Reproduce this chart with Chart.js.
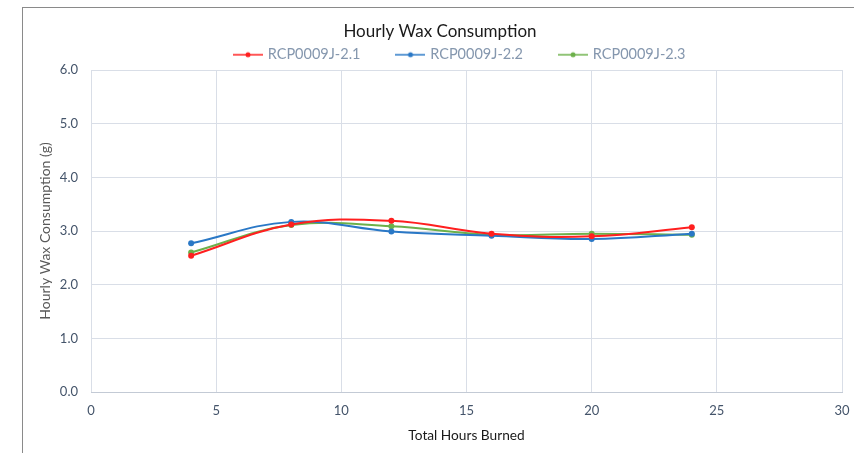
<!DOCTYPE html>
<html>
<head>
<meta charset="utf-8">
<script src="https://cdn.jsdelivr.net/npm/chart.js@4.4.1/dist/chart.umd.min.js"></script>
<style>
  html, body { margin: 0; padding: 0; background: #fff; }
  #wrap { position: relative; width: 854px; height: 453px; overflow: hidden; }
  #frame { position: absolute; left: 22px; top: 7px; right: -2px; bottom: -2px; border-top: 1px solid #8a8a8a; border-left: 1px solid #8a8a8a; pointer-events: none; }
  canvas { position: absolute; left: 0; top: 0; }
</style>
</head>
<body>
<div id="wrap">
  <canvas id="c" width="854" height="453"></canvas>
  <div id="frame"></div>
</div>
<script>
const hours = [4, 8, 12, 16, 20, 24];
const seriesNames = ['RCP0009J-2.1', 'RCP0009J-2.2', 'RCP0009J-2.3'];
const rcp21 = [2.54, 3.12, 3.19, 2.95, 2.90, 3.07];
const rcp22 = [2.77, 3.17, 2.99, 2.91, 2.85, 2.95];
const rcp23 = [2.60, 3.11, 3.09, 2.93, 2.95, 2.93];
const xTicks = [0, 5, 10, 15, 20, 25, 30];
const yTicks = [0, 1, 2, 3, 4, 5, 6];
const colors = ['#ff1f1f', '#2a78c6', '#6cb04a'];

function legendIcon(color) {
  const c = document.createElement('canvas');
  c.width = 30; c.height = 8;
  const g = c.getContext('2d');
  g.strokeStyle = color; g.lineWidth = 1.5;
  g.beginPath(); g.moveTo(0, 4); g.lineTo(30, 4); g.stroke();
  g.fillStyle = color;
  g.beginPath(); g.arc(15, 4, 2.5, 0, Math.PI * 2); g.fill();
  return c;
}

const allSeries = [rcp21, rcp22, rcp23];
const datasets = allSeries.map((vals, i) => ({
  label: seriesNames[i],
  data: hours.map((h, k) => ({ x: h, y: vals[k] })),
  borderColor: colors[i],
  backgroundColor: colors[i],
  borderWidth: 2,
  pointRadius: 3,
  pointBorderWidth: 0,
  pointStyle: 'circle',
  tension: 0.4,
  fill: false,
  yAxisID: 'y'
}));
const icons = colors.map(legendIcon);

// positions the legend row (layout only)
const legendPlacer = {
  id: 'legendPlacer',
  afterLayout(chart) {
    const l = chart.legend, a = chart.chartArea;
    if (!l) return;
    l.left = a.left - 6;
    l.right = a.right - 6;
    l.top = 10;
  }
};

new Chart(document.getElementById('c'), {
  type: 'line',
  data: { datasets },
  plugins: [legendPlacer],
  options: {
    responsive: false,
    animation: false,
    layout: { padding: { left: 26, right: 0, top: 21, bottom: 5 } },
    plugins: {
      title: {
        display: true,
        text: 'Hourly Wax Consumption',
        color: '#1a1a1a',
        font: { family: 'Lato', size: 17, weight: 'normal' },
        padding: { top: 0, bottom: 0 }
      },
      legend: {
        display: true,
        maxHeight: 28.6,
        labels: {
          usePointStyle: true,
          pointStyleWidth: 25,
          color: '#8597ae',
          font: { family: 'Lato', size: 14.5 },
          padding: 37.5,
          generateLabels: (chart) => chart.data.datasets.map((d, i) => ({
            text: d.label,
            fillStyle: d.borderColor,
            strokeStyle: d.borderColor,
            fontColor: '#8597ae',
            pointStyle: icons[i],
            lineWidth: 0,
            datasetIndex: i,
            hidden: false
          }))
        }
      },
      tooltip: { enabled: false }
    },
    scales: {
      x: {
        type: 'linear',
        min: 0, max: 30,
        afterBuildTicks: (s) => { s.ticks = xTicks.map(v => ({ value: v })); },
        afterFit: (s) => { s.height = 56; },
        ticks: { color: '#44546a', font: { family: 'Lato', size: 13 }, padding: 2, maxRotation: 0 },
        grid: { color: '#d9dee7', drawTicks: true, tickLength: 9, tickColor: 'rgba(0,0,0,0)' },
        border: { color: '#c3cad5' },
        title: { display: true, text: 'Total Hours Burned', color: '#1a1a1a', font: { family: 'Lato', size: 13.7 }, padding: { top: 0, bottom: 4 } }
      },
      y: {
        position: 'left',
        min: 0, max: 6,
        afterBuildTicks: (s) => { s.ticks = yTicks.map(v => ({ value: v })); },
        afterFit: (s) => { s.width = 65; },
        ticks: { color: '#44546a', font: { family: 'Lato', size: 13 }, padding: 13, callback: (v) => Number(v).toFixed(1) },
        grid: { color: '#d9dee7', drawTicks: false },
        border: { display: false },
        title: { display: true, text: 'Hourly Wax Consumption (g)', color: '#595959', font: { family: 'Lato', size: 14 }, padding: { top: 10.6, bottom: 0 } }
      },
      yR: {
        position: 'right',
        display: true,
        afterFit: (s) => { s.width = 12; },
        grid: { display: false },
        ticks: { display: false },
        border: { display: false }
      }
    }
  }
});
</script>
</body>
</html>
